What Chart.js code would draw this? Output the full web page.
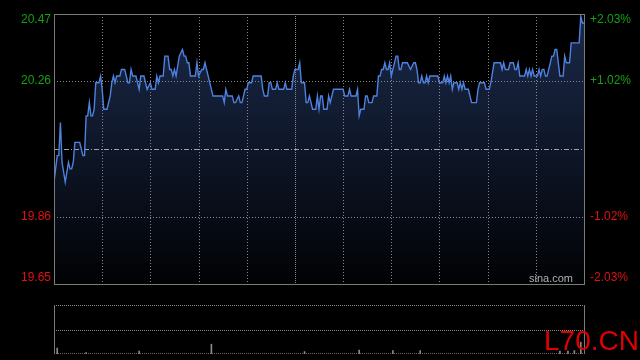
<!DOCTYPE html>
<html><head><meta charset="utf-8">
<script src="https://cdn.jsdelivr.net/npm/chart.js@4.4.1/dist/chart.umd.min.js"></script>
<style>
html,body{margin:0;padding:0;background:#000;width:640px;height:360px;overflow:hidden;}
#wrap{position:relative;width:640px;height:360px;}
canvas{position:absolute;left:0;}
#main{top:0;} #vol{top:290px;}
</style></head><body>
<div id="wrap">
<canvas id="main" width="640" height="290"></canvas>
<canvas id="vol" width="640" height="70"></canvas>
</div>
<script>
// ---- data ----
const prevClose = 20.06;
const axisMin = 19.6528, axisMax = 20.4672;
const leftTickValues = [20.4672, 20.2646, 19.8554, 19.6528];
const leftTickLabels = ['20.47', '20.26', '19.86', '19.65'];
const rightTickLabels = ['+2.03%', '+1.02%', '-1.02%', '-2.03%'];
const gridMinutes = [30, 60, 90, 120, 150, 180, 210, 240, 270, 300];
// minute index from 09:30 (HK session, 330 minutes)
const minutes = [
  0,2,3,4,5,7,9,10,11,12,
  13,16,17,18,19,20,21,22,23,24,
  25,26,28,29,30,31,33,35,36,37,
  38,39,41,42,44,46,47,48,49,51,
  52,53,54,56,57,58,60,61,63,64,
  65,66,68,69,71,72,73,74,75,76,
  78,80,81,82,83,84,85,88,89,90,
  92,93,94,96,98,99,105,106,107,108,
  111,112,113,115,116,117,119,120,121,123,
  124,129,130,131,133,134,135,136,138,139,
  140,141,143,144,145,148,149,150,152,153,
  154,156,157,158,159,161,163,164,165,166,
  167,168,170,171,172,174,180,181,183,184,
  185,188,189,190,191,193,194,195,196,198,
  199,201,202,203,204,205,206,207,208,209,
  210,211,212,213,214,215,216,217,220,222,
  224,225,226,227,228,229,230,231,232,233,
  234,239,240,242,243,244,245,246,247,248,
  249,251,252,253,254,255,256,258,260,263,
  264,265,268,269,271,272,274,278,279,280,
  281,283,284,286,287,288,289,290,293,294,
  295,296,297,298,299,301,302,303,304,305,
  306,307,309,310,311,312,313,314,315,317,
  318,319,321,322,327,328,329,330
];
const prices = [
  19.96,20.04,20.04,20.14,20.02,19.96,20.02,20.00,20.00,20.02,
  20.08,20.08,20.06,20.04,20.04,20.16,20.16,20.20,20.16,20.16,
  20.18,20.26,20.26,20.28,20.24,20.18,20.18,20.22,20.26,20.28,
  20.26,20.28,20.28,20.30,20.30,20.26,20.26,20.30,20.28,20.28,
  20.26,20.24,20.28,20.28,20.26,20.24,20.26,20.24,20.24,20.28,
  20.26,20.28,20.28,20.34,20.34,20.30,20.30,20.28,20.30,20.28,
  20.34,20.36,20.34,20.34,20.32,20.32,20.28,20.28,20.32,20.28,
  20.30,20.30,20.32,20.28,20.24,20.22,20.22,20.20,20.24,20.22,
  20.22,20.20,20.20,20.22,20.20,20.20,20.24,20.24,20.26,20.26,
  20.28,20.28,20.24,20.22,20.22,20.26,20.26,20.24,20.24,20.26,
  20.24,20.24,20.24,20.26,20.24,20.24,20.28,20.30,20.30,20.32,
  20.26,20.26,20.20,20.20,20.22,20.18,20.18,20.22,20.18,20.22,
  20.22,20.18,20.18,20.22,20.20,20.24,20.24,20.22,20.22,20.24,
  20.22,20.22,20.24,20.16,20.18,20.18,20.22,20.22,20.20,20.20,
  20.22,20.22,20.28,20.28,20.30,20.30,20.32,20.30,20.30,20.32,
  20.28,20.30,20.32,20.34,20.34,20.30,20.30,20.32,20.32,20.30,
  20.32,20.32,20.30,20.26,20.26,20.28,20.26,20.26,20.28,20.26,
  20.28,20.28,20.26,20.26,20.28,20.26,20.28,20.26,20.28,20.24,
  20.26,20.26,20.24,20.26,20.24,20.26,20.24,20.24,20.20,20.20,
  20.24,20.26,20.26,20.24,20.24,20.26,20.32,20.32,20.30,20.32,
  20.30,20.30,20.32,20.32,20.30,20.30,20.32,20.28,20.28,20.30,
  20.28,20.30,20.28,20.30,20.28,20.28,20.30,20.28,20.30,20.30,
  20.28,20.28,20.32,20.34,20.34,20.36,20.36,20.32,20.28,20.28,
  20.34,20.32,20.32,20.38,20.38,20.46,20.44,20.44
];
// volume (relative units, panel max 100)
const volMinutes = [0, 2, 20, 53, 98, 156, 190, 211, 228, 315, 320, 324, 328];
const volValues  = [8, 12, 3, 6, 20, 5, 8, 7, 7, 6, 6, 7, 24];
const volMax = 100;

// ---- styling helpers ----
const GREEN = '#14a014', RED = '#e01010';
const FONT = '12px "Liberation Sans", Arial, sans-serif';
const gridColor = 'rgba(150,150,150,0.9)';

function dotted(ctx, x1, y1, x2, y2, dash, color) {
  ctx.save();
  ctx.strokeStyle = color; ctx.lineWidth = 1; ctx.setLineDash(dash);
  ctx.beginPath(); ctx.moveTo(x1, y1); ctx.lineTo(x2, y2); ctx.stroke();
  ctx.restore();
}

const mainDecor = {
  id: 'mainDecor',
  afterDatasetDraw(chart, args) {
    if (args.index !== 0) return;
    const {ctx, chartArea: a, scales: {x, y}} = chart;
    gridMinutes.forEach(m => {
      const px = Math.round(x.getPixelForValue(m)) + 0.5;
      dotted(ctx, px, a.top, px, a.bottom, m === 150 ? [1, 1] : [1, 2], gridColor);
    });
    [leftTickValues[1], leftTickValues[2]].forEach(v => {
      const py = Math.round(y.getPixelForValue(v)) + 0.5;
      dotted(ctx, a.left, py, a.right, py, [1, 2], gridColor);
    });
    const pc = Math.round(y.getPixelForValue(prevClose)) + 0.5;
    dotted(ctx, a.left, pc, a.right, pc, [5, 2, 1, 2], 'rgba(170,180,200,0.9)');
  },
  afterDraw(chart) {
    const {ctx, chartArea: a, scales: {y}} = chart;
    ctx.save();
    ctx.strokeStyle = '#7a7a7a'; ctx.lineWidth = 1;
    ctx.strokeRect(a.left + 0.5, a.top + 0.5, a.right - a.left, a.bottom - a.top);
    ctx.font = FONT; ctx.textBaseline = 'middle';
    leftTickValues.forEach((v, i) => {
      let py = y.getPixelForValue(v);
      py = Math.min(Math.max(py, a.top + 6), a.bottom - 6);
      ctx.fillStyle = v > prevClose ? GREEN : RED;
      ctx.textAlign = 'right';
      ctx.fillText(leftTickLabels[i], a.left - 3, py);
      ctx.textAlign = 'left';
      ctx.fillText(rightTickLabels[i], a.right + 6, py);
    });
    ctx.font = '11px "Liberation Sans", Arial, sans-serif';
    ctx.fillStyle = '#b0b0b0'; ctx.textAlign = 'right';
    ctx.fillText('sina.com', a.right - 11, a.bottom - 5);
    ctx.restore();
  }
};

const points = minutes.map((m, i) => ({x: m, y: prices[i]}));

new Chart(document.getElementById('main'), {
  type: 'line',
  data: {
    datasets: [
      {
        data: points, order: 2, borderWidth: 0, pointRadius: 0,
        fill: 'start',
        backgroundColor(ctx) {
          const a = ctx.chart.chartArea;
          if (!a) return '#101a2e';
          const g = ctx.chart.ctx.createLinearGradient(0, a.top, 0, a.bottom);
          g.addColorStop(0, '#1b2a4a');
          g.addColorStop(0.5, '#0e1628');
          g.addColorStop(1, '#010204');
          return g;
        }
      },
      {
        data: points, order: 1, borderColor: '#4d82e0', borderWidth: 1.4,
        pointRadius: 0, fill: false, tension: 0
      }
    ]
  },
  options: {
    responsive: false, animation: false, devicePixelRatio: 1,
    layout: {padding: {left: 54, right: 56, top: 14, bottom: 6}},
    plugins: {legend: {display: false}, tooltip: {enabled: false}},
    scales: {
      x: {type: 'linear', min: 0, max: 330, display: false},
      y: {min: axisMin, max: axisMax, display: false}
    }
  },
  plugins: [mainDecor]
});

const volDecor = {
  id: 'volDecor',
  beforeDatasetsDraw(chart) {
    const {ctx, chartArea: a} = chart;
    const mid = Math.round((a.top + a.bottom) / 2) + 0.5;
    dotted(ctx, a.left, a.top + 0.5, a.right, a.top + 0.5, [1, 1], gridColor);
    dotted(ctx, a.left, mid, a.right, mid, [1, 1], gridColor);
    dotted(ctx, a.left, a.bottom - 0.5, a.right, a.bottom - 0.5, [1, 1], '#666');
  },
  afterDraw(chart) {
    const {ctx, chartArea: a} = chart;
    ctx.save();
    ctx.strokeStyle = '#7a7a7a'; ctx.lineWidth = 1;
    ctx.beginPath();
    ctx.moveTo(a.left + 0.5, a.top); ctx.lineTo(a.left + 0.5, a.bottom);
    ctx.moveTo(a.right + 0.5, a.top); ctx.lineTo(a.right + 0.5, a.bottom);
    ctx.stroke();
    ctx.font = '28px "Liberation Sans", Arial, sans-serif';
    ctx.fillStyle = '#e00000'; ctx.textAlign = 'left'; ctx.textBaseline = 'alphabetic';
    ctx.fillText('L70.CN', 544, 60);
    ctx.restore();
  }
};

new Chart(document.getElementById('vol'), {
  type: 'bar',
  data: {
    datasets: [{
      data: volMinutes.map((m, i) => ({x: m, y: volValues[i]})),
      backgroundColor: '#8a8a8a', barThickness: 1, borderWidth: 0
    }]
  },
  options: {
    responsive: false, animation: false, devicePixelRatio: 1,
    layout: {padding: {left: 54, right: 56, top: 15, bottom: 6}},
    plugins: {legend: {display: false}, tooltip: {enabled: false}},
    scales: {
      x: {type: 'linear', min: 0, max: 330, display: false, offset: false},
      y: {min: 0, max: volMax, display: false}
    }
  },
  plugins: [volDecor]
});
</script>
</body></html>
